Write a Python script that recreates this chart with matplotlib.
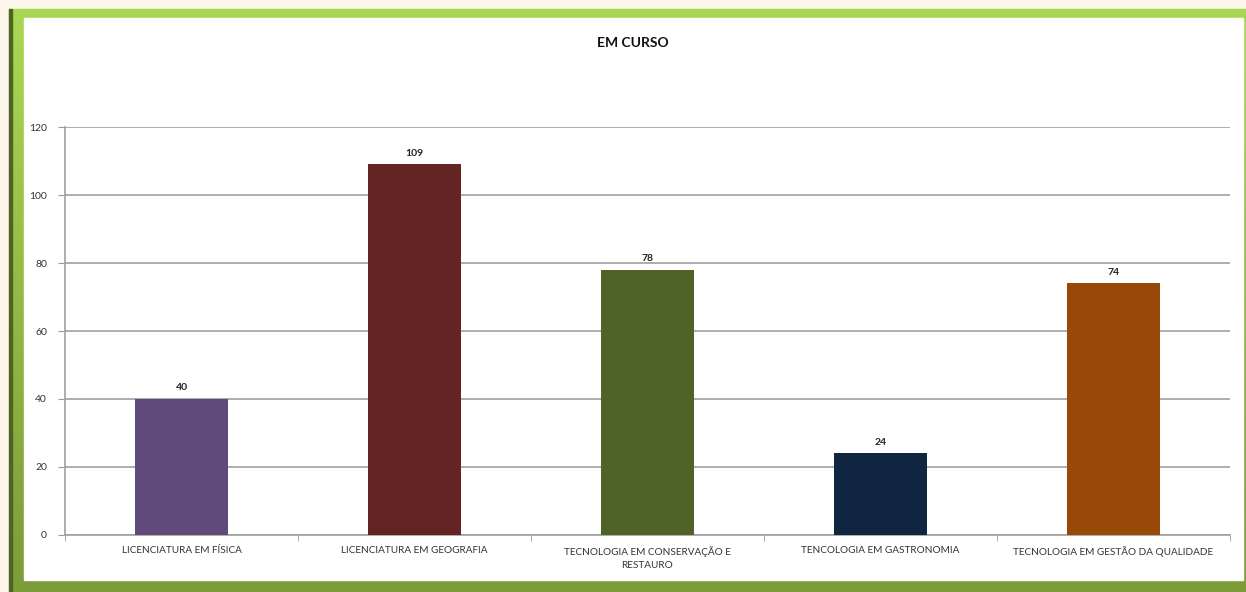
import matplotlib
matplotlib.use('Agg')
import matplotlib.pyplot as plt
import numpy as np
from matplotlib.patches import Rectangle
from matplotlib.colors import LinearSegmentedColormap

# dados
cursos = ['LICENCIATURA EM FÍSICA', 'LICENCIATURA EM GEOGRAFIA',
          'TECNOLOGIA EM CONSERVAÇÃO E\nRESTAURO', 'TENCOLOGIA EM GASTRONOMIA',
          'TECNOLOGIA EM GESTÃO DA QUALIDADE']
alunos = [40, 109, 78, 24, 74]
cores = ['#604a7b', '#632423', '#4f6228', '#10253f', '#984807']

plt.rcParams['font.family'] = ['Lato', 'DejaVu Sans']

W, H = 1246, 592
fig = plt.figure(figsize=(W / 100, H / 100), dpi=100, facecolor='#fdf5ea')

# moldura verde (fundo em pixels)
bg = fig.add_axes([0, 0, 1, 1], zorder=-5)
bg.set_xlim(0, W)
bg.set_ylim(H, 0)
bg.axis('off')
verde = LinearSegmentedColormap.from_list('verde', ['#abd753', '#7c9c38'])
grad = np.linspace(0, 1, 256).reshape(-1, 1)
bg.imshow(grad, cmap=verde, extent=(9, W, H, 9), aspect='auto', interpolation='bilinear')
bg.add_patch(Rectangle((9, 9), W - 9, 9, color='#a9d651'))
bg.add_patch(Rectangle((9, 9), 3, H, color='#4d6424'))
bg.add_patch(Rectangle((24, 18), 1243 - 24, 580 - 18, color='white'))

ax = fig.add_axes([65 / W, 1 - 535 / H, (1230 - 65) / W, (535 - 127) / H])
ax.set_facecolor('none')

x = range(len(cursos))
bars = ax.bar(x, alunos, width=0.4, color=cores, zorder=3)
for b, v in zip(bars, alunos):
    ax.text(b.get_x() + b.get_width() / 2, v + 2, str(v), ha='center', va='bottom',
            fontsize=7.5, fontweight='bold', color='#222222')

ax.set_xlim(-0.5, len(cursos) - 0.5)
ax.set_ylim(0, 120)
ax.set_yticks(range(0, 121, 20))
ax.yaxis.grid(True, color='#a0a0a0', linewidth=1.2, zorder=0)
ax.set_axisbelow(True)

ax.set_xticks(x)
ax.set_xticklabels(cursos, fontsize=7.2, color='#333333', linespacing=1.6)
ax.set_xticks([i + 0.5 for i in range(-1, len(cursos))], minor=True)
ax.tick_params(axis='x', which='major', length=0, pad=8)
ax.tick_params(axis='x', which='minor', length=4, color='#999999')
ax.tick_params(axis='y', length=5, color='#999999', labelsize=7.5, labelcolor='#333333', pad=8)

for s in ['top', 'right']:
    ax.spines[s].set_visible(False)
ax.spines['left'].set_color('#a0a0a0')
ax.spines['bottom'].set_color('#a0a0a0')
ax.spines['left'].set_linewidth(1.2)
ax.spines['bottom'].set_linewidth(1.2)

fig.text(633 / W, 1 - 43 / H, 'EM CURSO', ha='center', va='center',
         fontsize=10, fontweight='bold', color='#111111')

fig.savefig('out.png', dpi=100, facecolor=fig.get_facecolor())
